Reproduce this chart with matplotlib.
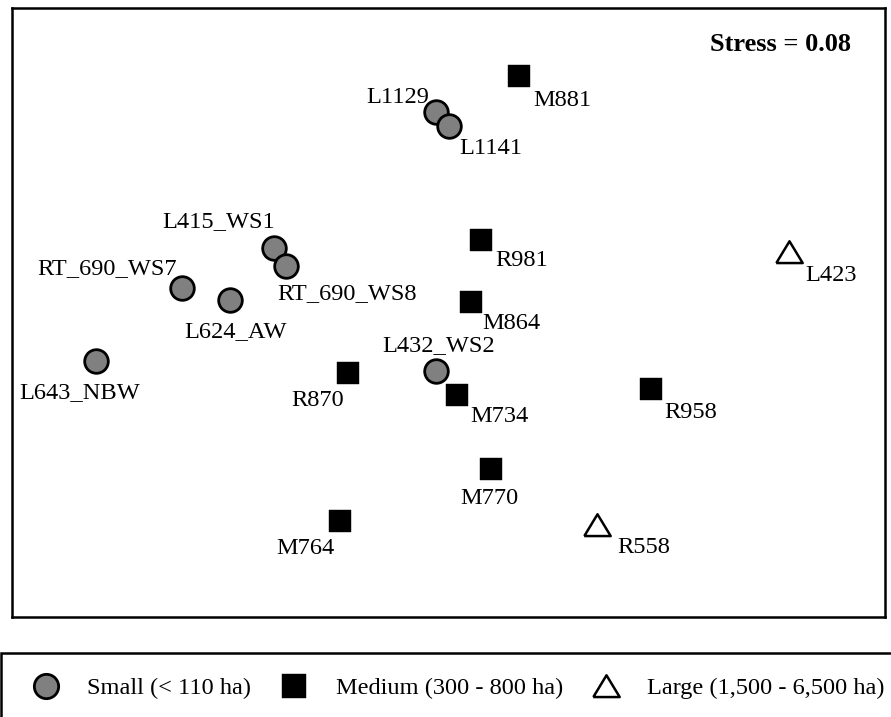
import matplotlib
matplotlib.use("Agg")
import matplotlib.pyplot as plt
from matplotlib.lines import Line2D
from matplotlib.patches import Rectangle

plt.rcParams['font.family'] = ['Liberation Serif', 'DejaVu Serif']

# NMDS ordination scores
sites = ["L1129", "L1141", "M881", "L415_WS1", "RT_690_WS8", "RT_690_WS7",
         "L624_AW", "L643_NBW", "R981", "L423", "M864", "L432_WS2",
         "R870", "M734", "R958", "M770", "M764", "R558"]
nmds1 = [-0.06, 0.00, 0.35, -0.87, -0.81, -1.33, -1.09, -1.76, 0.16, 1.70,
         0.11, -0.06, -0.50, 0.04, 1.01, 0.21, -0.54, 0.74]
nmds2 = [1.00, 0.93, 1.18, 0.32, 0.23, 0.12, 0.06, -0.24, 0.36, 0.30,
         0.05, -0.29, -0.30, -0.41, -0.38, -0.78, -1.04, -1.06]
size_class = ["Small", "Small", "Medium", "Small", "Small", "Small",
              "Small", "Small", "Medium", "Large", "Medium", "Small",
              "Medium", "Medium", "Medium", "Medium", "Medium", "Large"]
class_labels = ["Small (< 110 ha)", "Medium (300 - 800 ha)", "Large (1,500 - 6,500 ha)"]
stress_text = "Stress = 0.08"

# label offsets in pixels (style): (dx, dy of baseline), positive dy = up
offsets = {
    "L1129": (-39, 9), "L1141": (42, -28), "M881": (44, -30),
    "L415_WS1": (-56, 21), "RT_690_WS8": (61, -33), "RT_690_WS7": (-75, 14),
    "L624_AW": (5, -37), "L643_NBW": (-16, -37), "R981": (41, -26),
    "L423": (42, -29), "M864": (41, -27), "L432_WS2": (2, 20),
    "R870": (-31, -33), "M734": (43, -27), "R958": (40, -29),
    "M770": (-1, -35), "M764": (-35, -33), "R558": (47, -28),
}

tri = [(-1.0, -0.8), (1.0, -0.8), (0.0, 0.85), (-1.0, -0.8)]

styles = {
    "Small": dict(marker='o', s=17.0 ** 2, facecolor='#808080', edgecolor='black', linewidths=2.0),
    "Medium": dict(marker='s', s=16.4 ** 2, facecolor='black', edgecolor='black', linewidths=0.3),
    "Large": dict(marker=tri, s=19.0 ** 2, facecolor='white', edgecolor='black', linewidths=1.8),
}

fig = plt.figure(figsize=(8.91, 7.17), dpi=100)
W, H = 891, 717
ax = fig.add_axes([12 / W, 1 - 617 / H, (885 - 12) / W, (617 - 8) / H])

for cls in ["Small", "Medium", "Large"]:
    xs = [x for x, c in zip(nmds1, size_class) if c == cls]
    ys = [y for y, c in zip(nmds2, size_class) if c == cls]
    ax.scatter(xs, ys, zorder=3, **styles[cls])

for name, x, y in zip(sites, nmds1, nmds2):
    dx, dy = offsets[name]
    ax.annotate(name, (x, y), xytext=(dx, dy), textcoords='offset pixels',
                ha='center', va='baseline', fontsize=17.6, zorder=4)

ax.set_xlim(-2.18, 2.18)
ax.set_ylim(-1.52, 1.52)
ax.set_xticks([])
ax.set_yticks([])
for sp in ax.spines.values():
    sp.set_linewidth(1.8)
    sp.set_color('black')

ax.text((851 - 12) / 873, (617 - 51) / 609, stress_text, transform=ax.transAxes,
        ha='right', va='baseline', fontsize=19, fontweight='bold')

# legend box
fig.patches.append(Rectangle((0.5 / W, -0.05), 1.05, 1 - 653 / H + 0.05,
                             transform=fig.transFigure, fill=False,
                             edgecolor='black', linewidth=1.8))
handles = [
    Line2D([], [], linestyle='none', marker='o', markersize=17.5,
           markerfacecolor='#808080', markeredgecolor='black', markeredgewidth=2.0),
    Line2D([], [], linestyle='none', marker='s', markersize=17.2,
           markerfacecolor='black', markeredgecolor='black', markeredgewidth=0.3),
    Line2D([], [], linestyle='none', marker=tri, markersize=19,
           markerfacecolor='white', markeredgecolor='black', markeredgewidth=1.8),
]
fig.legend(handles, class_labels, loc='center left', ncol=3, frameon=False,
           bbox_to_anchor=(31 / W, 1 - 688 / H), fontsize=17.6,
           handlelength=1.2, handletextpad=1.1, columnspacing=1.15, borderpad=0,
           borderaxespad=0)

fig.savefig("out.png", dpi=100)
